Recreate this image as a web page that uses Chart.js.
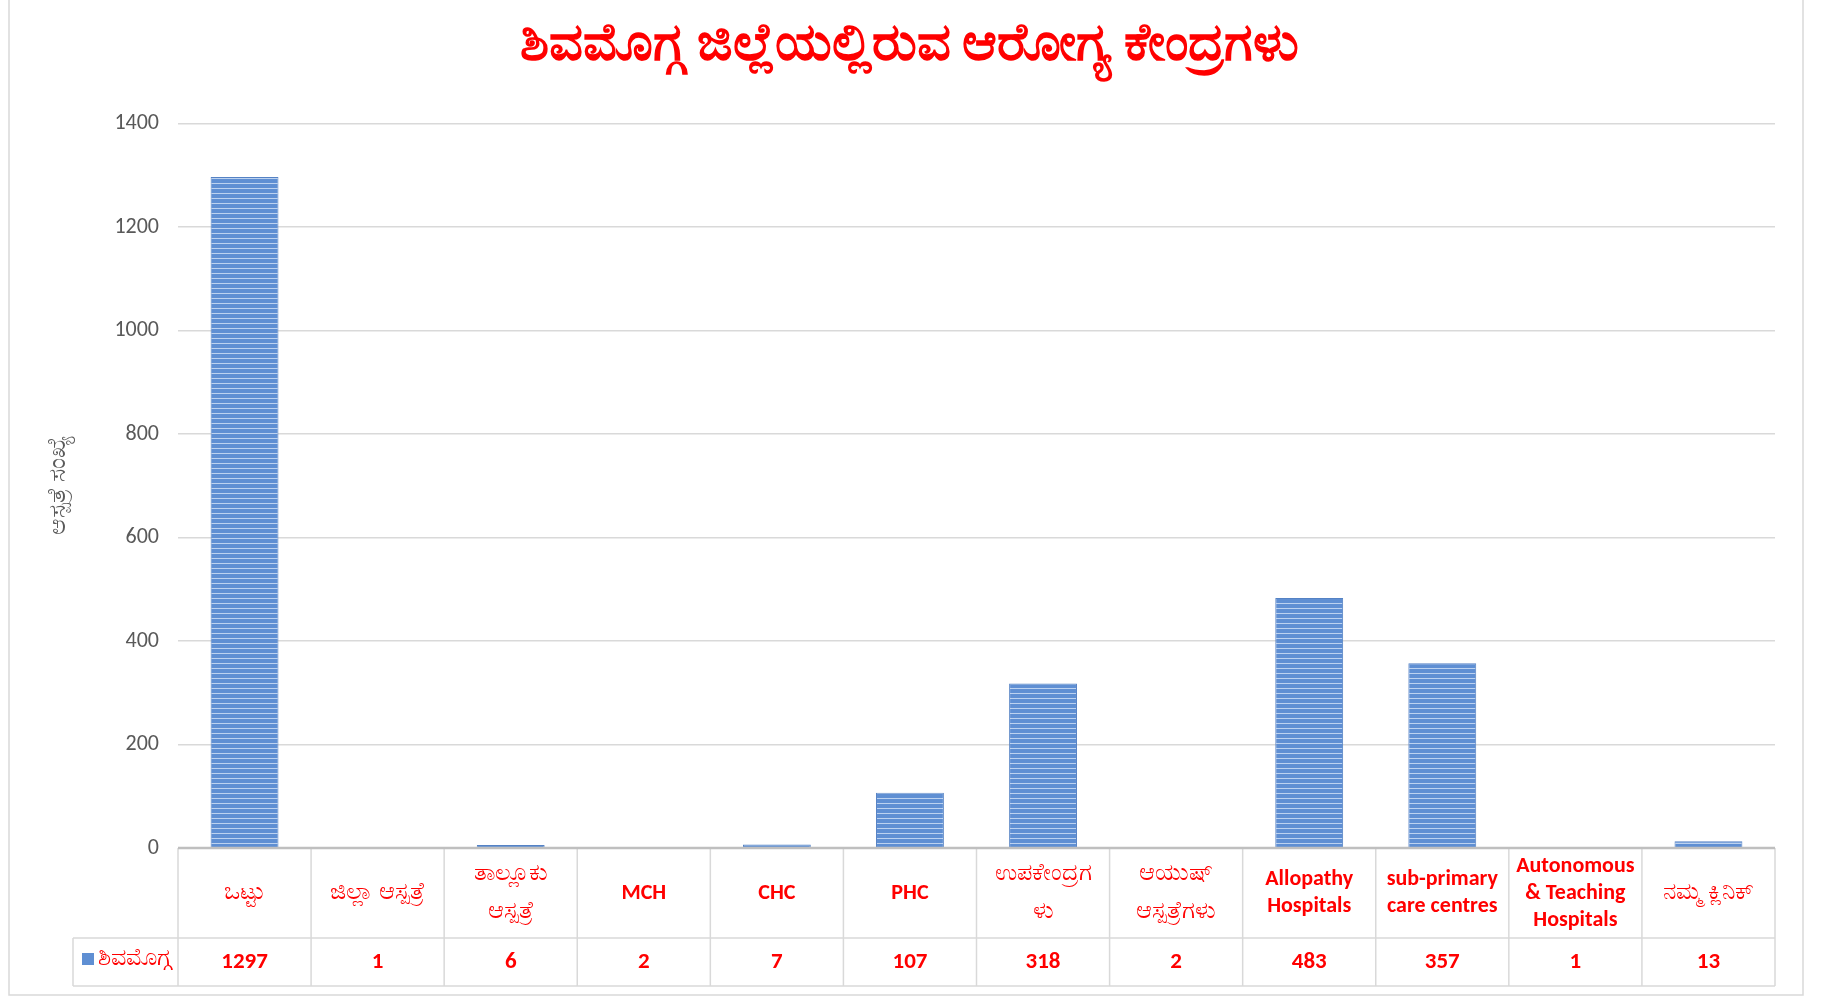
<!DOCTYPE html>
<html>
<head>
<meta charset="utf-8">
<script src="https://cdn.jsdelivr.net/npm/chart.js@4.4.1/dist/chart.umd.min.js"></script>
<style>
    html, body { margin: 0; padding: 0; background: #fff; }
    #wrap { width: 1829px; height: 997px; }
</style>
</head>
<body>
<div id="wrap"><canvas id="healthChart" width="1829" height="997"></canvas></div>
<script>
/* ================= DATA ================= */

const chartTitle = "ಶಿವಮೊಗ್ಗ ಜಿಲ್ಲೆಯಲ್ಲಿರುವ ಆರೋಗ್ಯ ಕೇಂದ್ರಗಳು";
const yAxisTitle = "ಆಸ್ಪತ್ರೆ ಸಂಖ್ಯೆ";
const seriesName = "ಶಿವಮೊಗ್ಗ";

// category labels, already split the way the table wraps them
const categories = [
    ["ಒಟ್ಟು"],
    ["ಜಿಲ್ಲಾ ಆಸ್ಪತ್ರೆ"],
    ["ತಾಲ್ಲೂಕು", "ಆಸ್ಪತ್ರೆ"],
    ["MCH"],
    ["CHC"],
    ["PHC"],
    ["ಉಪಕೇಂದ್ರಗ", "ಳು"],
    ["ಆಯುಷ್", "ಆಸ್ಪತ್ರೆಗಳು"],
    ["Allopathy", "Hospitals"],
    ["sub-primary", "care centres"],
    ["Autonomous", "& Teaching", "Hospitals"],
    ["ನಮ್ಮ ಕ್ಲಿನಿಕ್"],
];

const counts = [1297, 1, 6, 2, 7, 107, 318, 2, 483, 357, 1, 13];

const yMin = 0;
const yMax = 1400;
const yStep = 200;

/* ================= STYLE ================= */

const RED = "#ff0000";
const GRID = "#d9d9d9";
const AXIS_TEXT = "#595959";
const FONT = "Carlito, 'Liberation Sans Narrow', 'Open Sans', 'Noto Sans', sans-serif";

// horizontal stripes like the original bar fill
function stripePattern() {
    const c = document.createElement("canvas");
    c.width = 4;
    c.height = 5;
    const g = c.getContext("2d");
    g.fillStyle = "#5f8fd3";
    g.fillRect(0, 0, 4, 5);
    g.fillStyle = "#bcd2f0";
    g.fillRect(0, 3, 4, 1);
    return g.createPattern(c, "repeat");
}

const isLatin = s => /^[\x00-\x7f]*$/.test(s);

/* ================= TABLE PLUGIN ================= */

const dataTable = {
    id: "dataTable",
    beforeDraw(chart) {
        const { ctx } = chart;
        ctx.save();
        ctx.strokeStyle = GRID;
        ctx.lineWidth = 1.5;
        ctx.strokeRect(9, -2, 1794, 997);
        ctx.restore();
    },
    afterDraw(chart) {
        const { ctx, chartArea } = chart;
        const x = chart.scales.x;
        const half = (x.getPixelForValue(1) - x.getPixelForValue(0)) / 2;
        const top = chartArea.bottom;
        const mid = top + 90;
        const bot = mid + 48;
        const legendLeft = 73;
        const right = chartArea.right;

        ctx.save();
        ctx.strokeStyle = GRID;
        ctx.lineWidth = 1.5;
        ctx.beginPath();
        ctx.moveTo(legendLeft, mid); ctx.lineTo(right, mid);
        ctx.moveTo(legendLeft, bot); ctx.lineTo(right, bot);
        ctx.moveTo(legendLeft, mid); ctx.lineTo(legendLeft, bot);
        for (let i = 0; i <= categories.length; i++) {
            const px = x.getPixelForValue(i) - half;
            ctx.moveTo(px, top); ctx.lineTo(px, bot);
        }
        ctx.stroke();

        // axis line
        ctx.strokeStyle = "#bfbfbf";
        ctx.lineWidth = 2.5;
        ctx.beginPath();
        ctx.moveTo(chartArea.left, top);
        ctx.lineTo(right, top);
        ctx.stroke();

        ctx.fillStyle = RED;
        ctx.textAlign = "center";
        ctx.textBaseline = "middle";

        categories.forEach((lines, i) => {
            const cx = x.getPixelForValue(i);
            const latin = lines.every(isLatin);
            const lh = latin ? 27 : 38;
            const cy = (top + mid) / 2;
            lines.forEach((line, k) => {
                ctx.font = (isLatin(line) ? "bold 22px " : "24px ") + FONT;
                ctx.fillText(line, cx, cy + (k - (lines.length - 1) / 2) * lh);
            });
            ctx.font = "bold 23px " + FONT;
            ctx.fillText(String(counts[i]), cx, (mid + bot) / 2);
        });

        // legend key
        ctx.fillStyle = "#5f8fd3";
        ctx.fillRect(82, (mid + bot) / 2 - 9, 12, 12);
        ctx.fillStyle = RED;
        ctx.textAlign = "left";
        ctx.font = "24px " + FONT;
        ctx.fillText(seriesName, 98, (mid + bot) / 2 - 3);
        ctx.restore();
    }
};

/* ================= CHART ================= */

const canvas = document.getElementById("healthChart");

new Chart(canvas, {
    type: "bar",
    data: {
        labels: categories,
        datasets: [{
            label: seriesName,
            data: counts,
            backgroundColor: stripePattern(),
            borderColor: "#5582c4",
            borderWidth: { left: 1, right: 1, top: 1, bottom: 0 },
            categoryPercentage: 1,
            barPercentage: 0.51,
        }]
    },
    options: {
        responsive: false,
        animation: false,
        layout: {
            padding: { top: 15, left: 44, right: 54, bottom: 149 }
        },
        plugins: {
            legend: { display: false },
            tooltip: { enabled: false },
            title: {
                display: true,
                text: chartTitle,
                color: RED,
                font: { family: FONT, size: 53, weight: "bold", lineHeight: 1.2 },
                padding: { top: 0, bottom: 45 }
            }
        },
        scales: {
            x: {
                ticks: { display: false },
                grid: { display: false },
                border: { display: false },
                afterFit: s => { s.height = 0; }
            },
            y: {
                min: yMin,
                max: yMax,
                ticks: {
                    stepSize: yStep,
                    color: AXIS_TEXT,
                    padding: 19,
                    font: { family: FONT, size: 22 },
                    callback: v => String(v)
                },
                grid: { color: GRID, lineWidth: 1.5, drawTicks: false },
                border: { display: false },
                title: {
                    display: true,
                    text: yAxisTitle,
                    color: AXIS_TEXT,
                    font: { family: FONT, size: 25 },
                    padding: 0
                },
                afterFit: s => { s.width = 134; }
            }
        }
    },
    plugins: [dataTable]
});
</script>
</body>
</html>
